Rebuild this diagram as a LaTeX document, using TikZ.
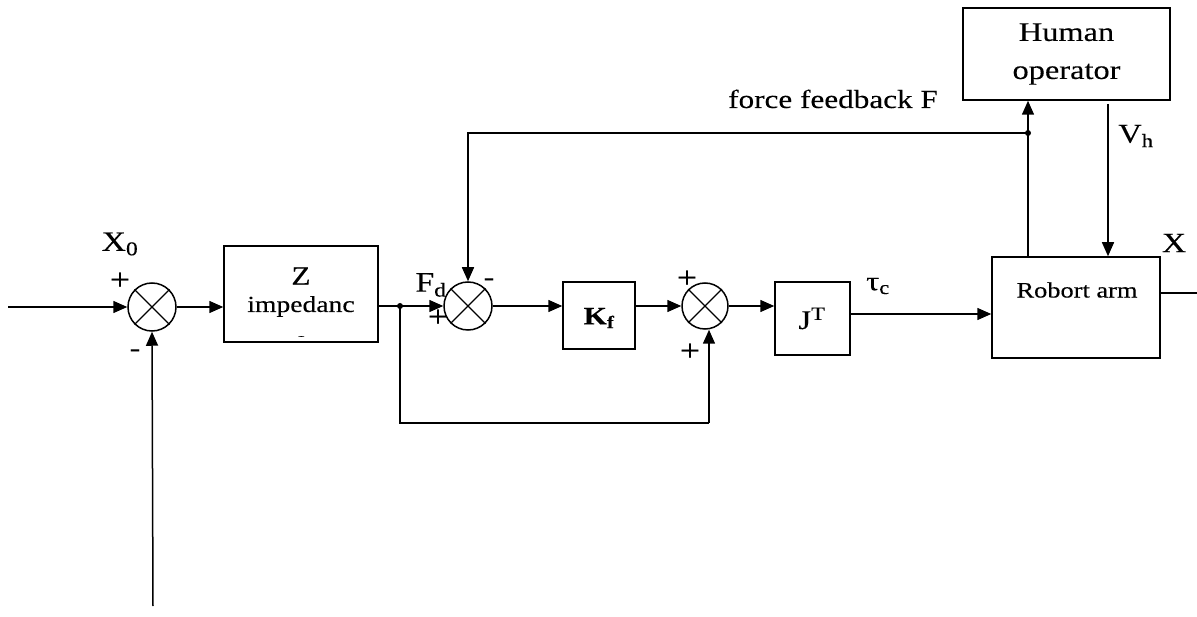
\documentclass[tikz,border=0pt]{standalone}
\usepackage{fontspec}
\setmainfont{Liberation Serif}[FakeStretch=1.2,FakeBold=0.25]
\usetikzlibrary{arrows.meta}
\newcommand{\fsz}[1]{\fontsize{#1}{#1}\selectfont}
\begin{document}
\begin{tikzpicture}[x=1pt,y=-1pt,
  line width=1.5pt,
  arr/.style={-{Triangle[length=14pt,width=12pt]}},
  sumnode/.style={circle,draw,minimum size=48pt,inner sep=0pt},
  blk/.style={draw,rectangle,inner sep=0pt},
  lbl/.style={inner sep=0pt,font=\fsz{26}},
  sgn/.style={inner sep=0pt,font=\fsz{30}},
  mns/.style={inner sep=0pt,font=\fsz{26}},
  dot/.style={circle,fill,inner sep=0pt,minimum size=6pt}]
\useasboundingbox (0,0) rectangle (1197,617);

% summing junctions
\node[sumnode] (sA) at (152,307) {};
\node[sumnode] (sB) at (468,306) {};
\node[sumnode,minimum size=46pt] (sC) at (705,306) {};
\foreach \s in {sA,sB,sC}{
  \draw[line width=1.4pt] (\s.north east) -- (\s.south west);
  \draw[line width=1.4pt] (\s.north west) -- (\s.south east);
}

% blocks
\node[blk,minimum width=154pt,minimum height=96pt] (Z) at (301,294) {};
\node[lbl] (Zt) at (301,276) {Z};
\node[lbl,anchor=base,font=\fsz{23}] (Zt2) at (301,312) {impedanc};
\begin{scope}
  \clip (226,300) rectangle (376,337);
  \node[lbl,anchor=base,font=\fsz{23}] (Ze) at (301,347) {e};
\end{scope}

\node[blk,minimum width=72pt,minimum height=67pt] (Kf) at (599,315.5) {};
\node[lbl,font=\fsz{25}] (Kft) at (599,318) {\textbf{K\textsubscript{f}}};

\node[blk,minimum width=75pt,minimum height=73pt] (JT) at (812.5,318.5) {};
\node[lbl,anchor=base,font=\fsz{27}] (JTt) at (812,329) {J\textsuperscript{T}};

\node[blk,minimum width=168pt,minimum height=101pt] (rob) at (1076,307.5) {};
\node[lbl,font=\fsz{22}] (robt) at (1077,290) {Robort arm};

\node[blk,minimum width=207pt,minimum height=92pt,align=center,font=\fsz{27}] (hum) at (1066.5,54) {Human\\[11pt]operator};

% coordinates
\coordinate (in) at (8,307);
\coordinate (fb) at (153,606);
\coordinate (j1) at (400,306);
\coordinate (j2) at (1028,133);
\coordinate (lowL) at (400,423);
\coordinate (lowR) at (709,423);
\coordinate (tau) at (850,314);
\coordinate (vh) at (1108,104);
\coordinate (out) at (1197,293);

% connectors
\draw[arr] (in) -- (sA.west);
\draw[arr] (fb) -- (sA.south);
\draw[arr] (sA.east) -- (Z.west |- sA.east);
\draw[arr] (Z.east |- j1) -- (sB.west);
\node[dot] (d1) at (j1) {};
\draw[arr] (sB.east) -- (Kf.west |- sB.east);
\draw[arr] (Kf.east |- sC.west) -- (sC.west);
\draw[arr] (sC.east) -- (JT.west |- sC.east);
\draw (j1) -- (lowL) -- (lowR);
\draw[arr] (lowR) -- (lowR |- sC.south);
\draw[arr] (tau) -- (rob.west |- tau);
\draw[arr] (j2 |- rob.north) -- (j2 |- hum.south);
\node[dot] (d2) at (j2) {};
\draw[arr] (j2) -- (sB.north |- j2) -- (sB.north);
\draw[arr] (vh) -- (vh |- rob.north);
\draw (rob.east |- out) -- (out);

% labels
\node[lbl,font=\fsz{28}] (lX0) at (120,244) {X\textsubscript{0}};
\node[sgn] (pA) at (120,281) {+};
\node[mns] (mA) at (135,353) {-};
\node[lbl,font=\fsz{28}] (lFd) at (431,285) {F\textsubscript{d}};
\node[sgn] (pB) at (438,318) {+};
\node[mns] (mB) at (489,282) {-};
\node[sgn] (pC) at (687,279) {+};
\node[sgn] (pC2) at (690,352) {+};
\node[lbl,font=\fsz{27}] (ltau) at (878,286) {τ\textsubscript{c}};
\node[lbl,font=\fsz{28}] (lX) at (1174,243) {X};
\node[lbl,font=\fsz{27}] (lVh) at (1136,136) {V\textsubscript{h}};
\node[lbl,font=\fsz{26},anchor=base] (lF) at (833,108) {force feedback F};
\end{tikzpicture}
\end{document}
